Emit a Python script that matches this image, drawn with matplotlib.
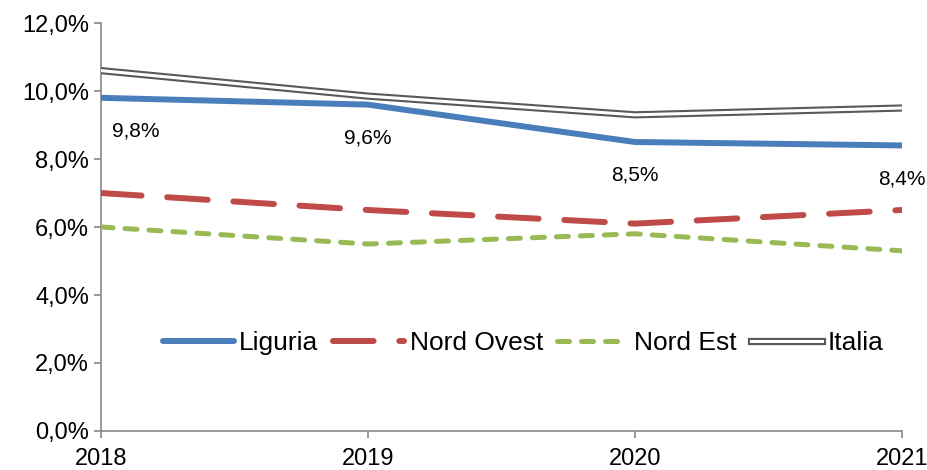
import matplotlib.pyplot as plt
import matplotlib.patheffects as pe
from matplotlib.ticker import FuncFormatter

plt.rcParams['font.family'] = ['Liberation Sans', 'DejaVu Sans']

# Dati
anni = [2018, 2019, 2020, 2021]
liguria = [9.8, 9.6, 8.5, 8.4]
nord_ovest = [7.0, 6.5, 6.1, 6.5]
nord_est = [6.0, 5.5, 5.8, 5.3]
italia = [10.6, 9.85, 9.3, 9.5]
etichette = ["9,8%", "9,6%", "8,5%", "8,4%"]

fig = plt.figure(figsize=(9.27, 4.70), dpi=100)
ax = fig.add_axes([0.109, 0.083, 0.864, 0.868])

ax.plot(anni, liguria, color='#4a7ebb', lw=4.3, solid_capstyle='round', label='Liguria', zorder=4)
ax.plot(anni, nord_ovest, color='#be4b48', lw=4.3, dashes=(6.8, 4.3), dash_capstyle='round',
        label='Nord Ovest', zorder=3)
ax.plot(anni, nord_est, color='#98b954', lw=3.6, dashes=(2.4, 2.4), dash_capstyle='round',
        label='Nord Est', zorder=3)
ax.plot(anni, italia, color='white', lw=2.2, label='Italia', zorder=3,
        path_effects=[pe.Stroke(linewidth=5.2, foreground='#595959'), pe.Normal()])

# etichette dati Liguria
offs_x = [25, 0, 0, 0]
for x, y, t, dx in zip(anni, liguria, etichette, offs_x):
    ax.annotate(t, (x, y), xytext=(dx, -24), textcoords='offset points',
                ha='center', va='center', fontsize=15)

ax.set_xlim(2018, 2021)
ax.set_ylim(0, 12)
ax.set_xticks(anni)
ax.set_yticks([0, 2, 4, 6, 8, 10, 12])
ax.yaxis.set_major_formatter(FuncFormatter(lambda v, p: f"{v:.1f}%".replace('.', ',')))
ax.tick_params(axis='both', labelsize=17, direction='out', length=5, color='#888888', width=1.2)
ax.tick_params(axis='x', pad=7)
for s in ['top', 'right']:
    ax.spines[s].set_visible(False)
for s in ['left', 'bottom']:
    ax.spines[s].set_color('#888888')
    ax.spines[s].set_linewidth(1.2)

ax.legend(loc='center', bbox_to_anchor=(0.527, 0.216), ncol=4, frameon=False, fontsize=19,
          handlelength=2.7, handletextpad=0.2, columnspacing=0.55)

fig.savefig('out.png', dpi=100)
